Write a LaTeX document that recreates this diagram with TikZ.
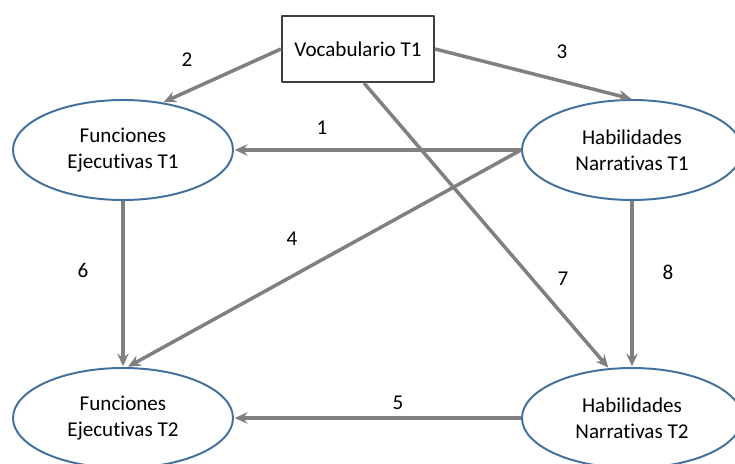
\documentclass[tikz,border=0pt]{standalone}
\usepackage{fontspec}
\setmainfont{Carlito}[Ligatures=NoCommon]
\usetikzlibrary{arrows.meta,shapes.geometric}
\definecolor{flecha}{HTML}{808080}
\definecolor{borde}{HTML}{41719C}
\definecolor{caja}{HTML}{404040}
\begin{document}
\begin{tikzpicture}[font=\fontsize{15}{18.5}\selectfont, line join=round, >={Stealth[length=9pt,width=8pt]},
	var/.style={ellipse, draw=borde, line width=1.4pt, fill=white, minimum width=5.5cm, minimum height=2.5cm, inner sep=0pt, align=center},
	obs/.style={rectangle, draw=caja, line width=1.5pt, fill=white, minimum width=3.8cm, minimum height=1.65cm},
	rel/.style={->, draw=flecha, line width=2.5pt, shorten >=0.5pt}]
			\useasboundingbox (0,0) rectangle (18.375,11.6);
			\node[obs] (voc) at (8.95,10.375) {Vocabulario T1};
			\node[var] (fe1) at (3.075,7.85) {Funciones\\Ejecutivas T1};
			\node[var] (hn1) at (15.8,7.85) {Habilidades\\Narrativas T1};
			\node[var] (fe2) at (3.075,1.15) {Funciones\\Ejecutivas T2};
			\node[var] (hn2) at (15.8,1.15) {Habilidades\\Narrativas T2};
			\draw[rel] (hn1.west)--(fe1.east);
			\draw[rel] (voc.west)--(fe1.50);
			\draw[rel] (voc.east)--(hn1.north);
			\draw[rel] (hn1.west)--(fe2.85);
			\draw[rel] (hn2.west)--(fe2.east);
			\draw[rel] (fe1.south)--(fe2.north);
			\draw[rel] (voc.-80)--(hn2.115);
			\draw[rel] (hn1.south)--(hn2.north);
			\node (l1) at (8.05,8.4) {1};
			\node (l2) at (4.675,10.1) {2};
			\node (l3) at (14.05,10.3) {3};
			\node (l4) at (7.3,5.625) {4};
			\node (l5) at (9.95,1.525) {5};
			\node (l6) at (2.075,4.85) {6};
			\node (l7) at (14.075,4.625) {7};
			\node (l8) at (16.7,4.8) {8};
\end{tikzpicture}
\end{document}
